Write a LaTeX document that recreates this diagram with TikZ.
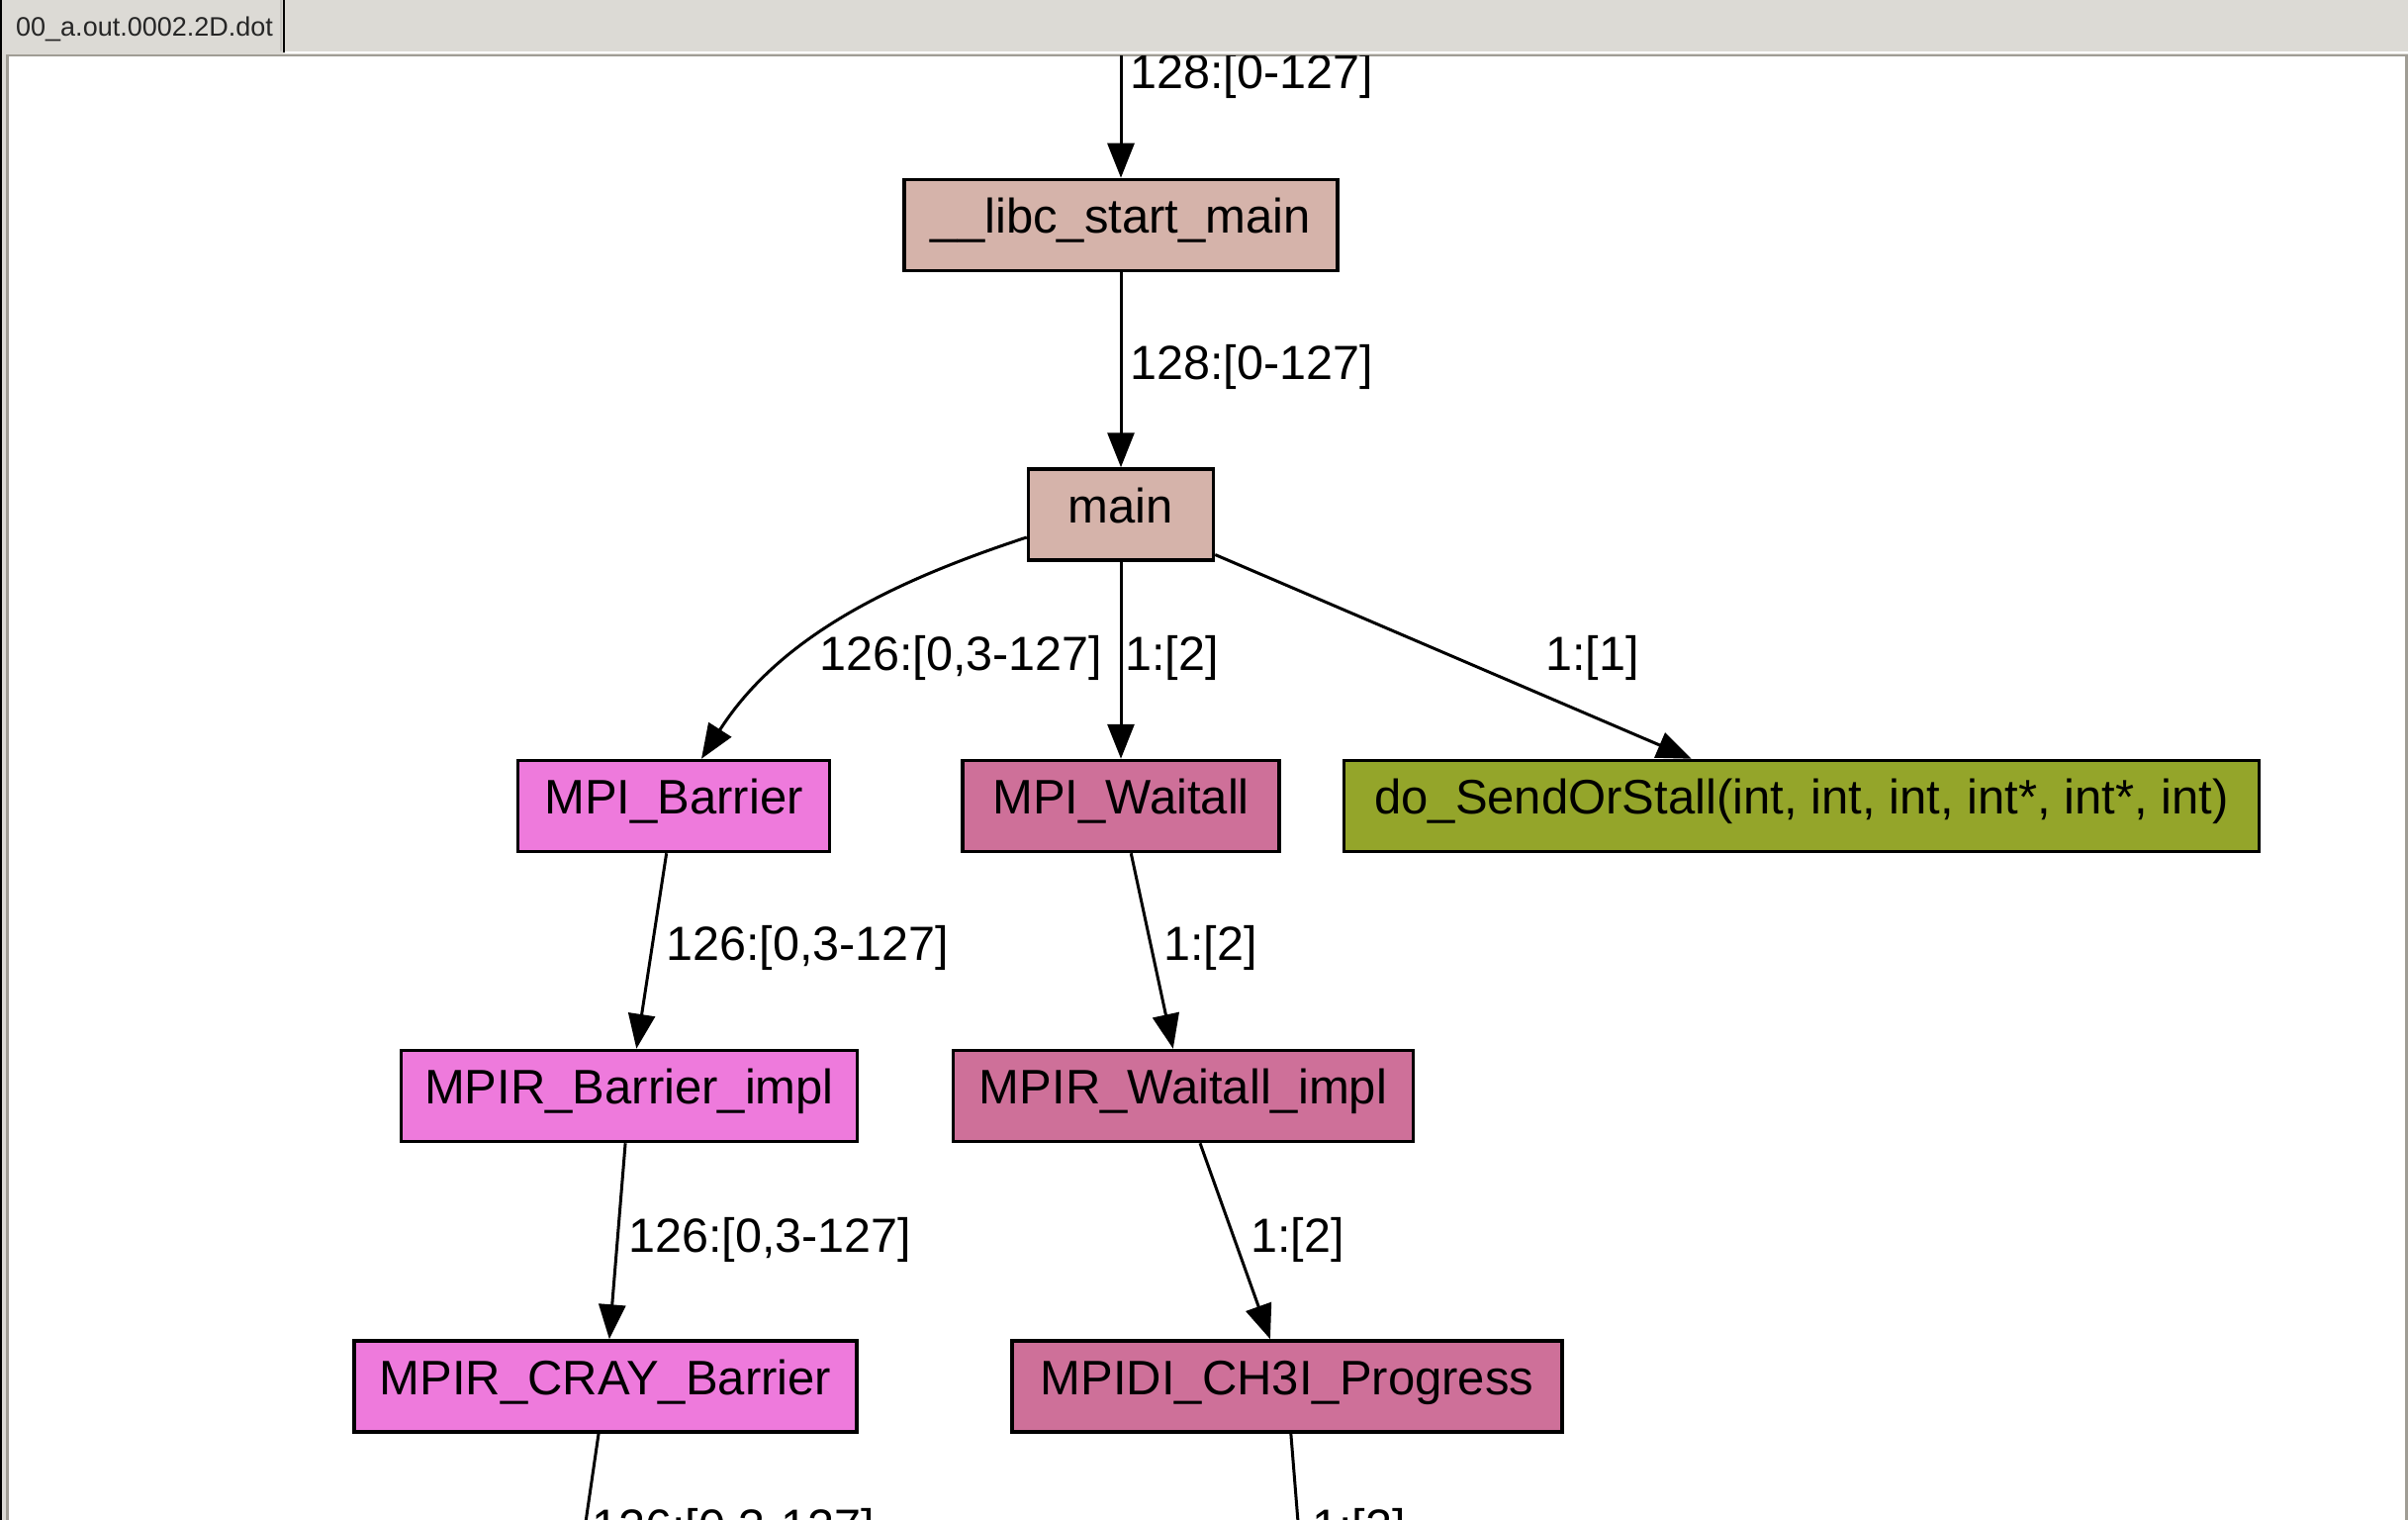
\documentclass[tikz,border=0pt]{standalone}
\usepackage{fontspec}
\setmainfont{Liberation Sans}
\usetikzlibrary{arrows.meta,calc}
\definecolor{tabgray}{HTML}{DCDAD5}
\definecolor{bordergray}{HTML}{A09D95}
\definecolor{fillTan}{HTML}{D5B3AA}
\definecolor{fillOrchid}{HTML}{EE7ADC}
\definecolor{fillMauve}{HTML}{CE7099}
\definecolor{fillOlive}{HTML}{94A52A}
\begin{document}
\begin{tikzpicture}[x=1pt,y=-1pt,
  fn/.style={draw=black, line width=3.5pt, minimum height=92pt, inner sep=0pt,
    text height=35pt, text depth=19pt, font=\fontsize{49}{58}\selectfont, text=black},
  lbl/.style={font=\fontsize{48.5}{58}\selectfont, inner sep=0pt, anchor=base west},
  edge/.style={line width=3pt, -{Triangle[length=35pt,width=27pt]}}]
\useasboundingbox (0,0) rectangle (2434,1536);
% window chrome
\fill[tabgray] (0,0) rectangle (2434,1536);
\fill[black] (0,0) rectangle (2,1536);
\fill[bordergray] (6,55) rectangle (2434,57);
\fill[bordergray] (6,55) rectangle (9,1536);
\fill[bordergray] (2431,55) rectangle (2434,1536);
\fill[white] (9,57) rectangle (2431,1536);
\fill[white] (288,52) rectangle (2434,54);
\fill[bordergray!60] (283,0) rectangle (285,52);
\fill[black] (286,0) rectangle (288,53);
\node[font=\fontsize{27}{32}\selectfont, inner sep=0pt, anchor=base west, text=black!85] (tab) at (16,37) {00\_a.out.0002.2D.dot};
\begin{scope}
\clip (9,57) rectangle (2431,1536);
% nodes
\node[fn, fill=fillTan, minimum width=438pt] (libc) at (1133,227.5) {\_\_libc\_start\_main};
\node[fn, fill=fillTan, minimum width=187pt] (main) at (1133,520) {main};
\node[fn, fill=fillOrchid, minimum width=315pt] (mpib) at (681,814.5) {MPI\_Barrier};
\node[fn, fill=fillMauve, minimum width=320pt] (mpiw) at (1133,814.5) {MPI\_Waitall};
\node[fn, fill=fillOlive, minimum width=925pt] (dosend) at (1821,814.5) {do\_SendOrStall(int, int, int, int*, int*, int)};
\node[fn, fill=fillOrchid, minimum width=461pt] (mpirb) at (636,1107.5) {MPIR\_Barrier\_impl};
\node[fn, fill=fillMauve, minimum width=465pt] (mpirw) at (1196,1107.5) {MPIR\_Waitall\_impl};
\node[fn, fill=fillOrchid, minimum width=508pt] (cray) at (612,1401) {MPIR\_CRAY\_Barrier};
\node[fn, fill=fillMauve, minimum width=556pt] (ch3) at (1301,1401) {MPIDI\_CH3I\_Progress};
\coordinate (topin) at (1133,40);
\coordinate (crayout) at (583,1600);
\coordinate (ch3out) at (1317,1600);
% edges
\draw[edge] (topin) -- (libc);
\draw[edge] (libc) -- (main);
\draw[edge] ($(main.west)+(0,23)$) .. controls (910,585) and (790,640) .. ($(mpib.north)+(28,0)$);
\draw[edge] (main) -- (mpiw);
\draw[edge] (main) -- (dosend);
\draw[edge] (mpib) -- (mpirb);
\draw[edge] (mpiw) -- (mpirw);
\draw[edge] (mpirb) -- (cray);
\draw[edge] (mpirw) -- (ch3);
\draw[line width=3pt] (cray) -- (crayout);
\draw[line width=3pt] (ch3) -- (ch3out);
% labels
\node[lbl] (l0) at (1142,90) {128:[0-127]};
\node[lbl] (l1) at (1142,383) {128:[0-127]};
\node[lbl] (l2) at (828,677) {126:[0,3-127]};
\node[lbl] (l3) at (1137,677) {1:[2]};
\node[lbl] (l4) at (1562,677) {1:[1]};
\node[lbl] (l5) at (673,970) {126:[0,3-127]};
\node[lbl] (l6) at (1176,970) {1:[2]};
\node[lbl] (l7) at (635,1265) {126:[0,3-127]};
\node[lbl] (l8) at (1264,1265) {1:[2]};
\node[lbl] (l9) at (598,1559) {126:[0,3-127]};
\node[lbl] (l10) at (1326,1559) {1:[2]};
\end{scope}
\end{tikzpicture}
\end{document}
